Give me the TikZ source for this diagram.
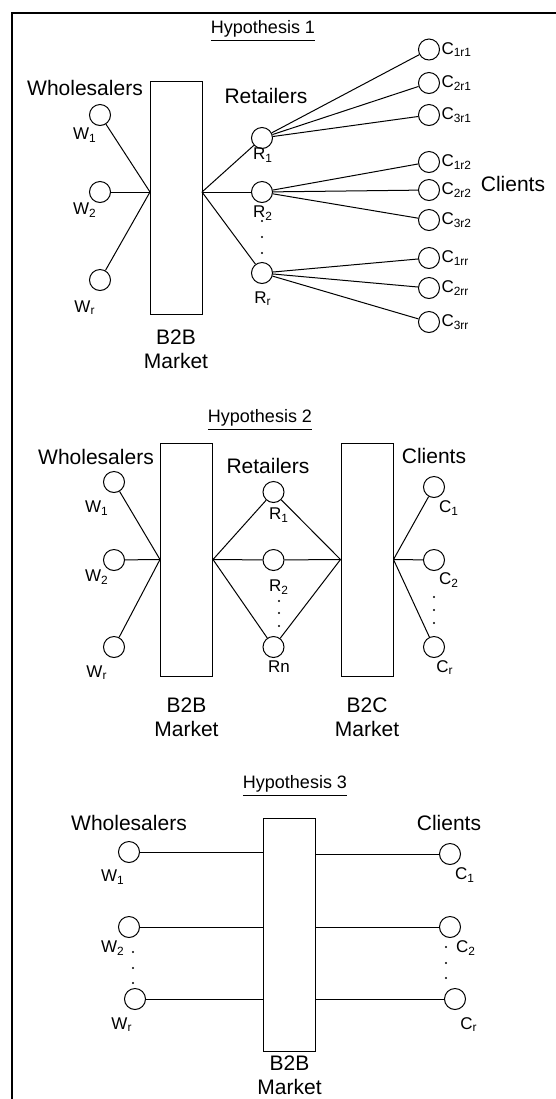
\documentclass[tikz,border=0pt]{standalone}
\usepackage{fontspec}
\setmainfont{Liberation Sans}
\usepackage{tikz}
\usetikzlibrary{positioning}
\tikzset{font=\fontsize{8.5}{10}\selectfont}
\tikzset{every node/.append style={inner sep=0pt}}
\tikzset{agent/.style={circle,draw,minimum size=10.5pt,inner sep=0pt},
  market/.style={draw,minimum width=26pt,minimum height=116.5pt},
  role/.style={font=\fontsize{10.5}{12.2}\selectfont},
  hyp/.style={font=\fontsize{9}{10}\selectfont}}

\begin{document}
\begin{tikzpicture}[x=0.5pt,y=-0.5pt,line width=0.5pt]
  \useasboundingbox (0,0) rectangle (556,1099);
  \draw[line width=1pt] (12,1099)--(12,13)--(556,13);

  % Hypothesis 1
  \node[hyp] (h1) at (263,31) {\underline{Hypothesis 1}};
  \node[market] (B1) at (176,197.5) {};
  \node[role,align=center] (m1) at (176,349) {B2B\\Market};
  \coordinate (b1w) at (150,192);
  \coordinate (b1e) at (202,192);
  \node[role] (ws1) at (85,88) {Wholesalers};
  \node[role] (rt1) at (266,96) {Retailers};
  \node[role] (cl1) at (513,184) {Clients};

  \foreach \n/\y/\ly/\s in {1/115/135/1, 2/192/210/2, r/280/308/r}{
    \node[agent] (W\n) at (100,\y) {};
    \node (W\n l) at (85,\ly) {W\textsubscript{\s}};
    \draw (W\n)--(b1w);
  };
  \foreach \n/\y/\ly/\s in {1/138/155/1, 2/192/213/2, r/273/299/r}{
    \node[agent] (R\n) at (262,\y) {};
    \node (R\n l) at (263,\ly) {R\textsubscript{\s}};
    \draw (b1e)--(R\n);
  };
  \foreach \y in {221,237,253}{
    \fill (262,\y) circle (1.1);
  };

  \foreach \s/\y/\r in {1r1/49.5/R1, 2r1/83/R1, 3r1/115/R1,
                        1r2/162/R2, 2r2/190/R2, 3r2/220/R2,
                        1rr/258/Rr, 2rr/288/Rr, 3rr/322/Rr}{
    \node[agent] (C\s) at (429,\y) {};
    \node[anchor=west] (C\s l) at (441,\y) {C\textsubscript{\s}};
    \draw (\r)--(C\s);
  };

  % Hypothesis 2
  \node[hyp] (h2) at (260,420) {\underline{Hypothesis 2}};
  \node[market] (B2) at (186.5,559.5) {};
  \node[market] (B2c) at (367,559.5) {};
  \node[role,align=center] (m2) at (186.5,717) {B2B\\Market};
  \node[role,align=center] (m2c) at (367,717) {B2C\\Market};
  \node[role] (ws2) at (96,457) {Wholesalers};
  \node[role] (rt2) at (268,466) {Retailers};
  \node[role] (cl2) at (434,456) {Clients};

  \foreach \n/\y/\ly/\s in {1/482/508/1, 2/560/577/2, r/647/673/r}{
    \node[agent] (V\n) at (114,\y) {};
    \node (V\n l) at (97,\ly) {W\textsubscript{\s}};
    \draw (V\n)--(B2.west);
  };
  \foreach \n/\y in {1/492, 2/560, n/647}{
    \node[agent] (S\n) at (273.5,\y) {};
    \draw (B2.east)--(S\n)--(B2c.west);
  };
  \node (S1l) at (279,515) {R\textsubscript{1}};
  \node (S2l) at (279,587) {R\textsubscript{2}};
  \node (Snl) at (279,667) {Rn};
  \foreach \y in {601,613,626}{
    \fill (279,\y) circle (1.1);
  };
  \foreach \n/\y/\lx/\ly/\s in {1/487/449/508/1, 2/560/449/580/2, r/647/445/668/r}{
    \node[agent] (D\n) at (434,\y) {};
    \node (D\n l) at (\lx,\ly) {C\textsubscript{\s}};
    \draw (B2c.east)--(D\n);
  };
  \foreach \y in {597,610,623}{
    \fill (434,\y) circle (1.1);
  };

  % Hypothesis 3
  \node[hyp] (h3) at (295,786) {\underline{Hypothesis 3}};
  \node[market] (B3) at (289.5,934.5) {};
  \node[role,align=center] (m3) at (289.5,1075) {B2B\\Market};
  \node[role] (ws3) at (129,823) {Wholesalers};
  \node[role] (cl3) at (449,823) {Clients};

  \foreach \n/\x/\y/\lx/\ly/\s in {1/129/852/113/877/1, 2/129/927/113/948/2,
                                   r/135/999/122/1025/r}{
    \node[agent] (U\n) at (\x,\y) {};
    \node (U\n l) at (\lx,\ly) {W\textsubscript{\s}};
    \draw (U\n)--(U\n -| B3.west);
  };
  \foreach \n/\x/\y/\lx/\ly/\s in {1/450/854/465/875/1, 2/450/927/466/948/2,
                                   r/455/999/469/1025/r}{
    \node[agent] (E\n) at (\x,\y) {};
    \node (E\n l) at (\lx,\ly) {C\textsubscript{\s}};
    \draw (E\n -| B3.east)--(E\n);
  };
  \foreach \y in {952,968,983}{
    \fill (133,\y) circle (1.1);
  };
  \foreach \y in {947,963,978}{
    \fill (446,\y) circle (1.1);
  };
\end{tikzpicture}
\end{document}
